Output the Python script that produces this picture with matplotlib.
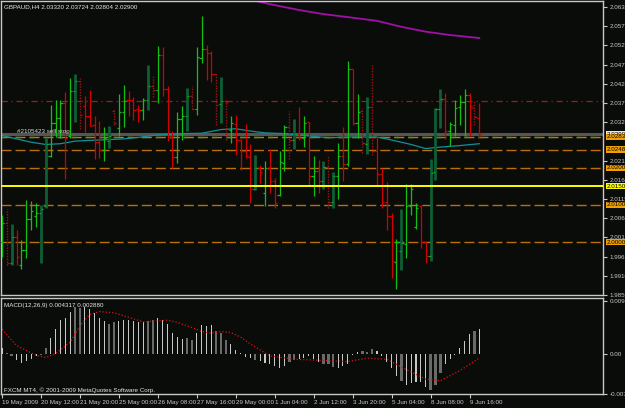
import matplotlib
matplotlib.use("Agg")
import matplotlib.pyplot as plt
import matplotlib.transforms as mtransforms

plt.rcParams['font.family'] = ['Liberation Sans', 'DejaVu Sans']

BG = '#0a0c0a'
FG = '#c8c8c8'
FS = 4.5

# GBPAUD H4 bars, 19 May - 9 Jun 2009
opens = [2.0000, 2.0053, 1.9946, 2.0013, 1.9938, 1.9980, 2.0062, 2.0071, 2.0078, 2.0098,
         2.0231, 2.0320, 2.0333, 2.0373, 2.0284, 2.0404, 2.0431, 2.0364, 2.0339, 2.0313,
         2.0268, 2.0247, 2.0271, 2.0351, 2.0306, 2.0348, 2.0382, 2.0380, 2.0357, 2.0355,
         2.0382, 2.0419, 2.0409, 2.0502, 2.0410, 2.0282, 2.0229, 2.0329, 2.0339, 2.0391,
         2.0357, 2.0493, 2.0517, 2.0507, 2.0451, 2.0370, 2.0378, 2.0302, 2.0317, 2.0275,
         2.0244, 2.0229, 2.0144, 2.0200, 2.0131, 2.0200, 2.0164, 2.0127, 2.0213, 2.0309,
         2.0275, 2.0291, 2.0280, 2.0322, 2.0177, 2.0191, 2.0164, 2.0202, 2.0109, 2.0177,
         2.0231, 2.0209, 2.0464, 2.0320, 2.0351, 2.0262, 2.0362, 2.0244, 2.0184, 2.0108,
         2.0071, 1.9948, 1.9978, 1.9995, 2.0098, 2.0040, 2.0098, 2.0000, 1.9964, 2.0189,
         2.0357, 2.0384, 2.0298, 2.0315, 2.0362, 2.0375, 2.0395, 2.0360, 2.03320]
highs = [2.0073, 2.0089, 2.0050, 2.0034, 2.0006, 2.0113, 2.0110, 2.0104, 2.0099, 2.0280,
         2.0369, 2.0380, 2.0380, 2.0402, 2.0440, 2.0451, 2.0440, 2.0393, 2.0409, 2.0339,
         2.0326, 2.0309, 2.0311, 2.0357, 2.0398, 2.0421, 2.0404, 2.0389, 2.0369, 2.0386,
         2.0475, 2.0446, 2.0526, 2.0522, 2.0419, 2.0298, 2.0348, 2.0364, 2.0413, 2.0419,
         2.0522, 2.0606, 2.0529, 2.0513, 2.0453, 2.0443, 2.0384, 2.0339, 2.0342, 2.0277,
         2.0318, 2.0262, 2.0233, 2.0206, 2.0219, 2.0249, 2.0171, 2.0244, 2.0315, 2.0351,
         2.0330, 2.0362, 2.0338, 2.0323, 2.0231, 2.0220, 2.0218, 2.0235, 2.0188, 2.0265,
         2.0309, 2.0486, 2.0464, 2.0398, 2.0360, 2.0389, 2.0475, 2.0282, 2.0200, 2.0162,
         2.0078, 2.0009, 2.0090, 2.0155, 2.0155, 2.0106, 2.0099, 2.0000, 2.0222, 2.0360,
         2.0410, 2.0400, 2.0322, 2.0382, 2.0395, 2.0410, 2.0400, 2.0380, 2.03724]
lows = [1.9960, 1.9938, 1.9938, 1.9938, 1.9929, 1.9957, 2.0034, 2.0040, 1.9945, 2.0093,
        2.0228, 2.0282, 2.0280, 2.0169, 2.0280, 2.0322, 2.0304, 2.0295, 2.0311, 2.0222,
        2.0225, 2.0218, 2.0253, 2.0314, 2.0284, 2.0309, 2.0338, 2.0327, 2.0322, 2.0327,
        2.0355, 2.0389, 2.0373, 2.0391, 2.0271, 2.0200, 2.0213, 2.0274, 2.0298, 2.0357,
        2.0342, 2.0480, 2.0435, 2.0428, 2.0313, 2.0320, 2.0274, 2.0266, 2.0233, 2.0193,
        2.0226, 2.0105, 2.0140, 2.0160, 2.0098, 2.0133, 2.0091, 2.0124, 2.0191, 2.0222,
        2.0249, 2.0274, 2.0256, 2.0153, 2.0124, 2.0131, 2.0142, 2.0093, 2.0093, 2.0117,
        2.0164, 2.0204, 2.0313, 2.0280, 2.0238, 2.0237, 2.0234, 2.0151, 2.0091, 2.0033,
        1.9904, 1.9874, 1.9927, 1.9957, 2.0073, 2.0035, 1.9986, 1.9946, 1.9951, 2.0167,
        2.0306, 2.0277, 2.0258, 2.0286, 2.0315, 2.0286, 2.0286, 2.0315, 2.02804]
closes = [2.0053, 1.9946, 2.0013, 1.9960, 1.9980, 2.0062, 2.0084, 2.0078, 2.0089, 2.0262,
          2.0320, 2.0333, 2.0373, 2.0280, 2.0404, 2.0431, 2.0342, 2.0339, 2.0311, 2.0268,
          2.0247, 2.0280, 2.0284, 2.0320, 2.0348, 2.0378, 2.0380, 2.0355, 2.0355, 2.0382,
          2.0419, 2.0409, 2.0502, 2.0410, 2.0298, 2.0229, 2.0329, 2.0339, 2.0391, 2.0357,
          2.0496, 2.0517, 2.0507, 2.0451, 2.0369, 2.0378, 2.0375, 2.0320, 2.0275, 2.0244,
          2.0231, 2.0144, 2.0200, 2.0188, 2.0200, 2.0164, 2.0106, 2.0216, 2.0309, 2.0275,
          2.0291, 2.0280, 2.0320, 2.0177, 2.0191, 2.0164, 2.0202, 2.0109, 2.0177, 2.0231,
          2.0209, 2.0465, 2.0320, 2.0349, 2.0265, 2.0362, 2.0244, 2.0184, 2.0108, 2.0071,
          1.9951, 2.0000, 1.9997, 2.0098, 2.0142, 2.0093, 2.0000, 1.9964, 2.0186, 2.0357,
          2.0384, 2.0298, 2.0317, 2.0360, 2.0375, 2.0395, 2.0364, 2.0336, 2.02900]
# bars shown in the darker colours
dim_bars = [1, 2, 8, 9, 15, 16, 22, 23, 30, 31, 38, 39, 44, 45, 46, 52, 59, 60,
            66, 67, 68, 74, 75, 76, 82, 88, 89, 90, 97]

# moving averages (read at sample bars)
ma_fast_x = [0, 3, 6, 9, 12, 15, 18, 22, 25, 28, 31, 34, 37, 41, 43, 45, 48, 51, 54,
             58, 62, 67, 71, 77, 80, 84, 87, 90, 94, 98]
ma_fast = [2.0286, 2.0277, 2.0268, 2.0262, 2.0264, 2.0271, 2.0273, 2.0275, 2.0277, 2.0281,
           2.0286, 2.0289, 2.0291, 2.0292, 2.0297, 2.0302, 2.0304, 2.0298, 2.0293, 2.0291,
           2.0286, 2.0280, 2.0282, 2.0282, 2.0274, 2.0262, 2.0251, 2.0255, 2.0259, 2.0264]
ma_slow_x = [50, 56, 61, 66, 71, 77, 82, 87, 92, 98]
ma_slow = [2.0652, 2.0635, 2.0622, 2.0611, 2.0603, 2.0593, 2.0577, 2.0564, 2.0555, 2.0547]

# MACD(12,26,9)
macd_hist = [0.0010, 0.0001, -0.0004, -0.0011, -0.0017, -0.0013, -0.0009, -0.0005, -0.0002, 0.0010,
             0.0027, 0.0044, 0.0059, 0.0063, 0.0074, 0.0082, 0.0080, 0.0082, 0.0079, 0.0072,
             0.0063, 0.0057, 0.0053, 0.0055, 0.0057, 0.0060, 0.0060, 0.0057, 0.0055, 0.0055,
             0.0057, 0.0059, 0.0062, 0.0060, 0.0052, 0.0036, 0.0030, 0.0026, 0.0027, 0.0024,
             0.0036, 0.0050, 0.0049, 0.0050, 0.0040, 0.0037, 0.0024, 0.0017, 0.0007, 0.0001,
             -0.0006, -0.0008, -0.0012, -0.0013, -0.0016, -0.0018, -0.0022, -0.0025, -0.0022, -0.0015,
             -0.0012, -0.0010, -0.0008, -0.0005, -0.0010, -0.0014, -0.0018, -0.0018, -0.0024, -0.0026,
             -0.0022, -0.0018, -0.0002, 0.0002, 0.0005, 0.0003, 0.0008, 0.0004, -0.0005, -0.0015,
             -0.0025, -0.0040, -0.0048, -0.0055, -0.0052, -0.0050, -0.0050, -0.0058, -0.0065, -0.0055,
             -0.0035, -0.0018, -0.0010, -0.0002, 0.0010, 0.0022, 0.0035, 0.0040, 0.0043]
signal_x = [0, 3, 7, 9, 11, 14, 16, 18, 20, 23, 26, 29, 31, 34, 36, 39, 41, 43, 45, 47,
            49, 51, 55, 60, 66, 71, 75, 79, 83, 87, 90, 94, 98]
signal = [0.0043, 0.0014, -0.0003, -0.0007, 0.0000, 0.0020, 0.0049, 0.0069, 0.0074, 0.0072,
          0.0064, 0.0056, 0.0057, 0.0059, 0.0055, 0.0046, 0.0039, 0.0036, 0.0039, 0.0037,
          0.0029, 0.0017, -0.0004, -0.0010, -0.0012, -0.0014, -0.0008, -0.0010, -0.0028, -0.0045,
          -0.0048, -0.0030, -0.0008]

date_ticks = list(range(0, 97, 8))
date_labels = ['19 May 2009', '20 May 12:00', '21 May 20:00', '25 May 00:00', '26 May 08:00',
               '27 May 16:00', '29 May 00:00', '1 Jun 04:00', '2 Jun 12:00', '3 Jun 20:00',
               '5 Jun 04:00', '8 Jun 08:00', '9 Jun 16:00']
price_ticks = [2.06300, 2.05790, 2.05280, 2.04755, 2.04245, 2.03735, 2.03225,
               2.02190, 2.01680, 2.01155, 2.00645, 2.00135, 1.99610, 1.99100, 1.98590]

level_dashdot = 2.0379
bid_price = 2.02900
order_price = 2.0283
orange_levels = [2.02485, 2.02000, 2.01000, 2.00000]
yellow_level = 2.01500

W, H = 625, 408


def box(x0, y0, x1, y1):
    return [x0 / W, 1 - y1 / H, (x1 - x0) / W, (y1 - y0) / H]


fig = plt.figure(figsize=(W / 100, H / 100), dpi=100, facecolor=BG)
ax = fig.add_axes(box(1, 1, 603, 295), facecolor=BG)
mx = fig.add_axes(box(1, 298, 603, 394), facecolor=BG)

# price bars
for i in range(len(closes)):
    up = closes[i] >= opens[i]
    if i in dim_bars:
        col = '#0e5e36' if up else '#9a1414'
        lw = 2.0 if up else 1.0
        ls = '-' if up else (0, (1, 1))
        tick_col = '#18a018' if up else '#b01010'
    else:
        col = '#12c012' if up else '#d40000'
        lw, ls = 0.9, '-'
        tick_col = col
    ax.vlines(i, lows[i], highs[i], color=col, lw=lw, linestyles=[ls], zorder=3)
    ax.hlines(opens[i], i - 0.45, i, color=tick_col, lw=0.9, zorder=3)
    ax.hlines(closes[i], i, i + 0.45, color=tick_col, lw=0.9, zorder=3)

# horizontal levels
ax.axhline(level_dashdot, color='#a41818', lw=0.9, dashes=(5, 3, 1, 3), zorder=1)
for lv in orange_levels:
    ax.axhline(lv, color='#b8700c', lw=1.0, dashes=(7.2, 2.9), zorder=1)
ax.axhline(bid_price, color='#555555', lw=2.2, zorder=2)
ax.axhline(order_price, color='#c07a10', lw=1.0, dashes=(7.2, 2.9), zorder=2)
ax.axhline(order_price, color='#3ca020', lw=1.0, dashes=(3.6, 6.5), zorder=2)
ax.axhline(yellow_level, color='#ffff00', lw=1.4, zorder=4)

ax.plot(ma_fast_x, ma_fast, color='#109098', lw=0.9, zorder=2)
ax.plot(ma_slow_x, ma_slow, color='#a010a8', lw=1.3, zorder=2)

ax.text(3, bid_price + 0.0001, '#2105423 sell stop', color='#d8d8d8', fontsize=FS,
        va='bottom', ha='left', zorder=5)

ax.set_xlim(-0.2, 123.4)
ax.set_ylim(1.98621, 2.06461)
ax.yaxis.tick_right()
ax.set_yticks(price_ticks)
ax.set_yticklabels(['%.5f' % p for p in price_ticks])
ax.tick_params(axis='y', colors=FG, labelsize=FS, length=3, width=0.8, pad=1.5)
ax.tick_params(axis='x', bottom=False, labelbottom=False)

# coloured price tags on the right axis
tr = mtransforms.blended_transform_factory(ax.transAxes, ax.transData)
tags = [(bid_price, '2.02900', '#e8e8e8'), (order_price, '2.02830', '#f0a000'),
        (2.02485, '2.02485', '#f0a000'), (2.02000, '2.02000', '#f0a000'),
        (yellow_level, '2.01500', '#ffff00'), (2.01000, '2.01000', '#f0a000'),
        (2.00000, '2.00000', '#f0a000')]
for val, txt, fc in tags:
    ax.text(1.006, val, txt, transform=tr, fontsize=FS, color='black', va='center',
            ha='left', clip_on=False, zorder=6,
            bbox=dict(boxstyle='square,pad=0.1', fc=fc, ec='none'))

# MACD panel
xs = list(range(len(macd_hist)))
norm_x = [x for x in xs if x not in dim_bars]
mx.bar(norm_x, [macd_hist[x] for x in norm_x], width=0.22, color='#c8c8c8')
mx.bar(dim_bars, [macd_hist[x] for x in dim_bars], width=0.5, color='#6a6a6a')
mx.plot(signal_x, signal, color='#e01010', lw=0.9, ls=(0, (1, 1.6)))
mx.set_xlim(-0.2, 123.4)
mx.set_ylim(-0.00712, 0.0098)
mx.yaxis.tick_right()
mx.set_yticks([0.0093, 0.0, -0.00712])
mx.set_yticklabels(['0.00930', '0.00', '-0.00712'])
mx.set_xticks(date_ticks)
mx.set_xticklabels(date_labels)
for lbl in mx.get_xticklabels():
    lbl.set_ha('left')
mx.tick_params(colors=FG, labelsize=FS, length=3, width=0.8, pad=1.5)

for a in (ax, mx):
    for s in a.spines.values():
        s.set_color(FG)
        s.set_linewidth(1.0)

fig.text(4 / W, 1 - 7 / H, 'GBPAUD,H4 2.03320 2.03724 2.02804 2.02900', color='#e8e8e8',
         fontsize=FS, va='center')
fig.text(4 / W, 1 - 305 / H, 'MACD(12,26,9) 0.004317 0.002880', color='#e8e8e8',
         fontsize=FS, va='center')
fig.text(4 / W, 1 - 390 / H, 'FXCM MT4, \u00a9 2001-2009 MetaQuotes Software Corp.',
         color='#e8e8e8', fontsize=FS, va='center')

fig.savefig('out.png', dpi=100, facecolor=BG)
